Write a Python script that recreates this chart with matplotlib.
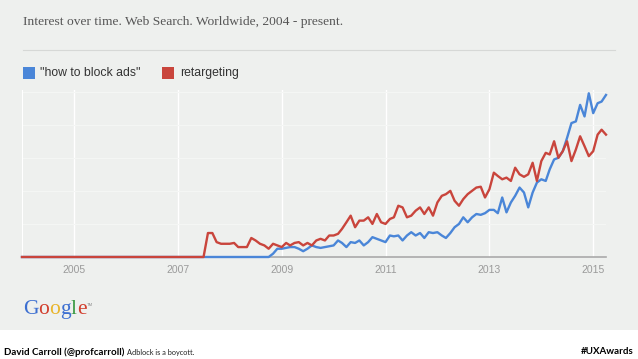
import matplotlib
matplotlib.use("Agg")
import matplotlib.pyplot as plt
import matplotlib.dates as mdates
from matplotlib.patches import Rectangle
from matplotlib.lines import Line2D
import pandas as pd

# monthly Google Trends index, Jan 2004 .. Apr 2015
months = pd.date_range("2004-01-01", periods=136, freq="MS")

retargeting = [0] * 43 + [
    14.5, 14.5, 9, 8, 8, 8, 8.5, 6, 6, 6, 11.5, 10, 8, 7, 5, 8, 7,
    6, 8.5, 7, 8.5, 9, 7, 8.5, 7, 10, 11, 10, 13,
    13, 14, 17, 21, 25, 18, 22, 22, 24, 20, 26, 21,
    20, 23, 24, 31, 30, 24, 25, 28, 30, 26, 30, 25,
    33, 37, 38, 40, 34, 31, 35, 38, 40, 42, 42.5, 36,
    41, 51, 49, 47, 48, 46, 54, 50, 48.5, 50, 57, 46,
    58, 63, 62, 70, 60, 64, 70, 58, 65, 73, 67, 61,
    64, 74, 77, 74,
]
block_ads = [0] * 58 + [
    2, 5,
    5, 5.5, 6, 6, 5, 3.5, 5, 7, 6, 5.5, 6, 6.5,
    7, 10, 8.5, 6, 9, 8.5, 10, 7, 9, 12, 11, 10,
    9, 13, 12.5, 13, 10, 13, 15, 13, 14.5, 11.5, 15, 14.5,
    15, 13, 11.5, 14.5, 18, 20, 24, 21, 24, 26, 25.5, 26.5,
    28.5, 28.5, 26.5, 36, 27, 33, 37, 42, 39, 30, 39, 45,
    47, 46, 53, 59, 60, 64, 72, 81, 82, 92, 85, 99,
    87, 93, 94, 98,
]
tick_years = [2005, 2007, 2009, 2011, 2013, 2015]
series_names = ['"how to block ads"', "retargeting"]

BLUE = "#4a86d8"
RED = "#c9453c"
BG = "#eef0ee"
W, H = 638, 359

fig = plt.figure(figsize=(W / 100, H / 100), dpi=100, facecolor="white")

def fx(px):
    return px / W

def fy(py):
    return 1 - py / H

# grey panel behind the chart, white strip at the bottom
fig.patches.append(Rectangle((0, fy(330)), 1, 1 - fy(330), transform=fig.transFigure,
                             facecolor=BG, edgecolor="none", zorder=-5))

fig.text(fx(23), fy(22), "Interest over time. Web Search. Worldwide, 2004 - present.",
         family="Liberation Serif", fontsize=9.7, color="#555555", va="center")
fig.lines.append(Line2D([fx(23), fx(615)], [fy(50), fy(50)], transform=fig.transFigure,
                        color="#d6d8d6", lw=0.8))

# legend
for (x0, xt, c, name) in [(23, 40, BLUE, series_names[0]), (162, 180, RED, series_names[1])]:
    fig.patches.append(Rectangle((fx(x0), fy(79)), fx(12), 12 / H, transform=fig.transFigure,
                                 facecolor=c, edgecolor="none"))
    fig.text(fx(xt), fy(73), name, family="Liberation Sans", fontsize=8.8,
             color="#333333", va="center")

ax = fig.add_axes([fx(22), fy(257), fx(606 - 22), (257 - 90) / H])
ax.set_facecolor(BG)
ax.plot(months, block_ads, color=BLUE, lw=1.7, clip_on=False, zorder=3)
ax.plot(months, retargeting, color=RED, lw=1.7, clip_on=False, zorder=4)

ax.set_xlim(months[0], months[-1])
ax.set_ylim(0, 101)
ax.set_xticks([pd.Timestamp(f"{y}-01-01") for y in tick_years])
ax.xaxis.set_major_formatter(mdates.DateFormatter("%Y"))
ax.set_yticks([20, 40, 60, 80, 100])
ax.set_yticklabels([])
ax.grid(axis="x", color="white", lw=1)
ax.grid(axis="y", color="#f4f6f4", lw=0.8)
ax.tick_params(axis="x", length=0, pad=6, labelsize=7.5, labelcolor="#9a9a9a")
ax.tick_params(axis="y", length=0)
for s in ["top", "right"]:
    ax.spines[s].set_visible(False)
ax.spines["left"].set_color("white")
ax.spines["bottom"].set_color("#aaaaaa")
ax.spines["bottom"].set_linewidth(1.2)
for lab in ax.get_xticklabels():
    lab.set_family("Liberation Sans")

# Google logo, letter by letter
fig.canvas.draw()
renderer = fig.canvas.get_renderer()
x = fx(23)
for ch, c in zip("Google", ["#3c6fd1", "#d2402f", "#e9b52c", "#3c6fd1", "#3a9a44", "#d2402f"]):
    t = fig.text(x, fy(314), ch, family="Liberation Serif", fontsize=15.5, color=c, va="baseline")
    bb = t.get_window_extent(renderer)
    x += bb.width / W
fig.text(x + 0.001, fy(306), "TM", family="Liberation Sans", fontsize=3, color="#888888")

# footer
t = fig.text(fx(4), fy(352), "David Carroll (@profcarroll)", family="Lato", weight="bold",
             fontsize=7, color="black", va="center")
bb = t.get_window_extent(renderer)
fig.text(bb.x1 / W + fx(3), fy(352), "Adblock is a boycott.", family="Lato",
         fontsize=5.3, color="#222222", va="center")
fig.text(fx(634), fy(352), "#UXAwards", family="Lato", weight="bold", fontsize=7,
         color="black", va="center", ha="right")

fig.savefig("out.png", dpi=100, facecolor=fig.get_facecolor())
